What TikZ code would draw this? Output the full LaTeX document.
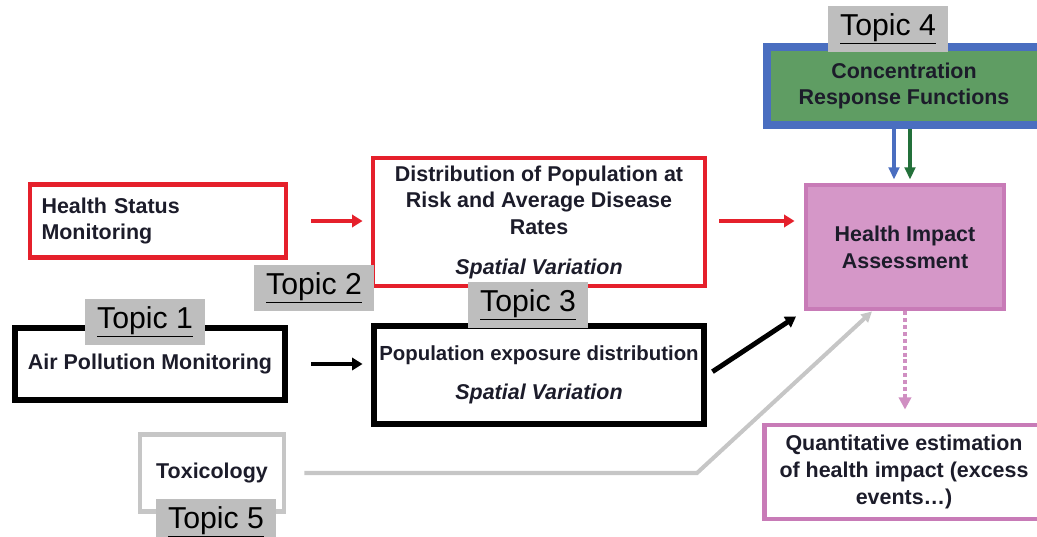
\documentclass[tikz,border=0pt]{standalone}
\usepackage{fontspec}
\setmainfont{Liberation Sans}
\usepackage{xcolor}
\usepackage{tikz}
\usetikzlibrary{calc}
\usetikzlibrary{arrows.meta, positioning}

\definecolor{hsred}{HTML}{E5202B}
\definecolor{crfblue}{HTML}{4A6EC0}
\definecolor{crfgreen}{HTML}{5F9D63}
\definecolor{arrgreen}{HTML}{23703A}
\definecolor{hiapink}{HTML}{D597C8}
\definecolor{hiaedge}{HTML}{C87BB7}
\definecolor{toxgray}{HTML}{C6C6C6}
\definecolor{topicgray}{HTML}{BEBEBE}
\definecolor{inkdark}{HTML}{1C1C2A}

\begin{document}
\begin{tikzpicture}[x=0.02cm, y=-0.02cm,
  box/.style={draw, rectangle, line width=2.8pt, inner sep=0pt, align=center,
    text=inkdark, font=\bfseries\fontsize{12.2}{15.3}\selectfont},
  topic/.style={fill=topicgray, inner sep=0pt, minimum width=2.4cm,
    minimum height=0.92cm, font=\fontsize{17.2}{18}\selectfont},
  flow/.style={line width=2.3pt, -{Triangle[length=6pt,width=7pt]}}]

  \useasboundingbox (0,0) rectangle (1037,537);
  \clip (0,0) rectangle (1037,537);

  % boxes
  \node[box, draw=hsred, minimum width=5.12cm, minimum height=1.46cm,
        text width=4.66cm, align=left] (hsm) at (158,221) {Health Status\\Monitoring};
  \node[box, line width=3.4pt, minimum width=5.42cm, minimum height=1.44cm]
        (apm) at (150,364) {Air Pollution Monitoring};
  \node[box, draw=hsred, minimum width=6.64cm, minimum height=2.56cm] (dpr) at (539,222)
        {Distribution of Population at\\Risk and Average Disease\\Rates\\[7pt]\textit{Spatial Variation}};
  \node[box, line width=3.4pt, minimum width=6.62cm, minimum height=1.96cm] (ped) at (539,375)
        {{\fontsize{11.6}{15.3}\selectfont Population exposure distribution}\\[7pt]\textit{Spatial Variation}};
  \node[box, draw=hiaedge, fill=hiapink, minimum width=3.96cm, minimum height=2.48cm]
        (hia) at (905,247) {Health Impact\\Assessment};
  \node[box, draw=crfblue, fill=crfgreen, line width=4.5pt, minimum width=5.48cm,
        minimum height=1.56cm] (crf) at (904,86) {Concentration\\Response Functions};
  \node[box, draw=hiaedge, minimum width=5.58cm, minimum height=1.88cm] (qe) at (904,472)
        {Quantitative estimation\\of health impact (excess\\events\dots)};
  \node[box, draw=toxgray, minimum width=2.88cm, minimum height=1.54cm]
        (tox) at (212,473) {Toxicology};

  % connectors
  \draw[flow, hsred, shorten <=0.46cm, shorten >=0.16cm] (hsm.east) -- (hsm.east -| dpr.west);
  \draw[flow, hsred, shorten <=0.24cm, shorten >=0.18cm] (hsm.east -| dpr.east) -- (hsm.east -| hia.west);
  \draw[flow, black, shorten <=0.46cm, shorten >=0.16cm] (apm.east) -- (apm.east -| ped.west);
  \draw[flow, black, line width=2.8pt, shorten <=0.12cm, shorten >=0.18cm]
        (ped.east) -- (hia.south west);

  \coordinate (blueTop) at ($(crf.south)+(-10,0)$);
  \coordinate (greenTop) at ($(crf.south)+(6,0)$);
  \draw[crfblue, line width=1.8pt, -{Triangle[length=7pt,width=6pt]}, shorten >=0.06cm]
        (blueTop) -- (blueTop |- hia.north);
  \draw[arrgreen, line width=1.8pt, -{Triangle[length=7pt,width=6pt]}, shorten >=0.06cm]
        (greenTop) -- (greenTop |- hia.north);

  \draw[hiaedge!85, line width=1.8pt, dash pattern=on 2.3pt off 1.6pt,
        -{Triangle[length=7pt,width=7pt]}, shorten >=0.26cm]
        (hia.south) -- (hia.south |- qe.north);

  \coordinate (toxBend) at (697,473);
  \coordinate (toxEnd) at ($(hia.south)+(-33,0)$);
  \draw[toxgray, line width=2.3pt, -{Triangle[length=6pt,width=6pt]}, shorten <=0.36cm]
        (tox.east) -- (toxBend) -- (toxEnd);

  % topic labels
  \node[topic] (t1) at (145,322) {\underline{Topic 1}};
  \node[topic] (t2) at (314,288) {\underline{Topic 2}};
  \node[topic] (t3) at (528,305) {\underline{Topic 3}};
  \node[topic] (t4) at (888,29)  {\underline{Topic 4}};
  \node[topic] (t5) at (216,522) {\underline{Topic 5}};
\end{tikzpicture}
\end{document}
